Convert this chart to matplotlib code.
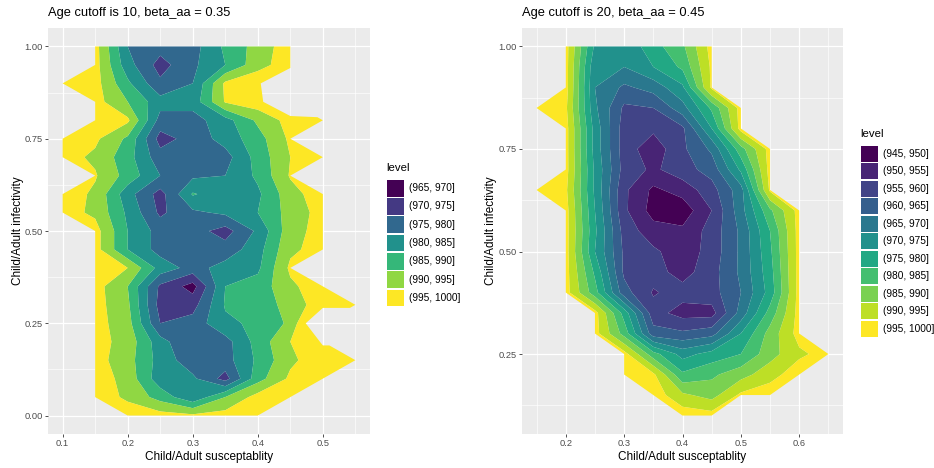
import numpy as np
import matplotlib
matplotlib.use("Agg")
import matplotlib.pyplot as plt
from matplotlib.patches import Rectangle

plt.rcParams['font.family'] = ['Liberation Sans', 'DejaVu Sans']

N = np.nan

left_title = "Age cutoff is 10, beta_aa = 0.35"
right_title = "Age cutoff is 20, beta_aa = 0.45"
x_label = "Child/Adult susceptablity"
y_label = "Child/Adult infectivity"
legend_title = "level"

# ---------------- left panel data ----------------
left_x = [0.10, 0.15, 0.20, 0.25, 0.30, 0.35, 0.40, 0.45, 0.50, 0.55]
left_y = [1.00, 0.95, 0.90, 0.85, 0.80, 0.75, 0.70, 0.65, 0.60, 0.55, 0.50,
          0.45, 0.40, 0.35, 0.30, 0.25, 0.20, 0.15, 0.10, 0.05, 0.00]
left_z = [
    [N,   997,   980, 977, 978,   986,   992, 998,   N,      N],
    [N,   997,   982, 973, 979,   985,   993, 998,   N,      N],
    [997, 997,   986, 976, 980,   996,   999, 1010,  N,      N],
    [N,   997,   990, 982, 982,   995.5, 998, 1010,  N,      N],
    [N,   998,   996, 978, 978,   983,   991, 997,   998,    N],
    [997, 996,   989, 973, 977,   982,   988, 996,   N,      N],
    [997, 994,   987, 977, 977,   978,   987, 995,   998,    N],
    [N,   995.5, 988, 980, 979,   980,   986, 995.5, N,      N],
    [998, 994,   982, 973, 985.5, 982,   984, 993,   998,    N],
    [997, 994,   984, 974, 979,   981,   985, 992,   997,    N],
    [N,   997,   985, 978, 977,   973,   981, 993,   997,    N],
    [N,   997,   985, 978, 977,   977,   983, 994,   997,    N],
    [N,   997,   995, 983, 978,   982,   984, 996,   N,      N],
    [N,   997,   990, 974, 968,   985,   987, 994,   998,    N],
    [N,   997,   991, 973, 973,   985.5, 987, 992,   998,    998],
    [N,   997,   992, 975, 977,   984,   986, 991,   1010,   N],
    [N,   997,   993, 982, 975,   978,   987, 995,   1000.5, N],
    [N,   997,   992, 983, 977,   978,   986, 994,   998,    998],
    [N,   998,   993, 982, 981,   973,   988, 996,   998,    N],
    [N,   998,   994, 988, 981,   990,   997, 998,   N,      N],
    [N,   N,     998, 997, 996,   997,   998, N,     N,      N],
]
left_levels = [965, 970, 975, 980, 985, 990, 995, 1000]
left_xticks = [0.1, 0.2, 0.3, 0.4, 0.5]
left_xticklabels = ["0.1", "0.2", "0.3", "0.4", "0.5"]
left_yticks = [0.0, 0.25, 0.5, 0.75, 1.0]
left_yticklabels = ["0.00", "0.25", "0.50", "0.75", "1.00"]

# ---------------- right panel data ----------------
right_x = [0.15, 0.20, 0.25, 0.30, 0.35, 0.40, 0.45, 0.50, 0.55, 0.60, 0.65]
right_y = [1.00, 0.95, 0.90, 0.85, 0.80, 0.75, 0.70, 0.65, 0.60, 0.55,
           0.50, 0.45, 0.40, 0.35, 0.30, 0.25, 0.20, 0.15, 0.10]
right_z = [
    [N,   997, 974, 971,   978,   984, 997, N,   N,   N,   N],
    [N,   997, 971, 970,   975,   981, 996, N,   N,   N,   N],
    [N,   997, 970, 964,   967,   974, 996, N,   N,   N,   N],
    [997, 996, 971, 959,   960,   968, 981, 997, N,   N,   N],
    [N,   997, 973, 957.5, 956,   959, 975, 997, N,   N,   N],
    [N,   997, 973, 957.5, 952,   959, 966, 983, 997, N,   N],
    [N,   997, 974, 958,   954,   958, 962, 976, 997, N,   N],
    [997, 996, 974, 956,   949,   952, 958, 968, 996, N,   N],
    [N,   997, 975, 956,   948,   947, 955, 968, 984, 997, N],
    [N,   997, 976, 958,   952,   951, 957, 966, 980, 997, N],
    [N,   997, 975, 959,   956,   952, 957, 966, 979, 997, N],
    [N,   997, 979, 959,   957,   953, 958, 966, 978, 997, N],
    [N,   997, 982, 962,   954.5, 957, 958, 965, 977, 997, N],
    [N,   N,   997, 978,   957,   953, 953, 967, 982, 997, N],
    [N,   N,   997, 983,   962,   961, 963, 975, 987, 997, N],
    [N,   N,   N,   997,   982,   973, 977, 980, 988, 994, 997],
    [N,   N,   N,   998,   996,   981, 984, 988, 993, 998, N],
    [N,   N,   N,   N,     998,   991, 988, 996, 998, N,   N],
    [N,   N,   N,   N,     N,     998, 997, N,   N,   N,   N],
]
right_levels = [945, 950, 955, 960, 965, 970, 975, 980, 985, 990, 995, 1000]
right_xticks = [0.2, 0.3, 0.4, 0.5, 0.6]
right_xticklabels = ["0.2", "0.3", "0.4", "0.5", "0.6"]
right_yticks = [0.25, 0.5, 0.75, 1.0]
right_yticklabels = ["0.25", "0.50", "0.75", "1.00"]

W, H = 934, 468
fig = plt.figure(figsize=(W / 100, H / 100), dpi=100)
fig.patch.set_facecolor("white")


def fx(px):
    return px / W


def fy(py):
    return 1 - py / H


def panel(px0, px1, py0, py1, xs, ys, zs, levels, xlim, ylim,
          xticks, xticklabels, yticks, yticklabels, title,
          ylab_x, leg_x, leg_top, key_h):
    ax = fig.add_axes([fx(px0), fy(py1), fx(px1 - px0), (py1 - py0) / H])
    ax.set_facecolor("#EBEBEB")
    for s in ax.spines.values():
        s.set_visible(False)
    ax.set_xlim(*xlim)
    ax.set_ylim(*ylim)
    # minor grid lines halfway between major ticks
    dx = xticks[1] - xticks[0]
    dy = yticks[1] - yticks[0]
    for t in [xticks[0] - dx / 2] + [v + dx / 2 for v in xticks]:
        if xlim[0] < t < xlim[1]:
            ax.axvline(t, color="white", lw=0.45, zorder=0.5)
    for t in [yticks[0] - dy / 2] + [v + dy / 2 for v in yticks]:
        if ylim[0] < t < ylim[1]:
            ax.axhline(t, color="white", lw=0.45, zorder=0.5)
    for t in xticks:
        ax.axvline(t, color="white", lw=0.9, zorder=0.6)
    for t in yticks:
        ax.axhline(t, color="white", lw=0.9, zorder=0.6)

    Z = np.ma.masked_invalid(np.array(zs, dtype=float))
    n = len(levels) - 1
    cols = plt.cm.viridis(np.linspace(0, 1, n))
    ax.contourf(xs, ys, Z, levels=levels, colors=cols, corner_mask=True,
                antialiased=True, zorder=1)

    ax.set_xticks(xticks)
    ax.set_xticklabels(xticklabels)
    ax.set_yticks(yticks)
    ax.set_yticklabels(yticklabels)
    ax.tick_params(axis="both", length=2.2, width=0.6, color="#333333",
                   labelcolor="#4D4D4D", labelsize=6.7, pad=1.5)

    fig.text(fx(px0), fy(13), title, fontsize=9.3, color="black",
             ha="left", va="center")
    fig.text(fx((px0 + px1) / 2), fy(457), x_label, fontsize=8.5,
             color="black", ha="center", va="center")
    fig.text(fx(ylab_x), fy((py0 + py1) / 2), y_label, fontsize=8.5,
             color="black", ha="center", va="center", rotation=90)

    # legend
    fig.text(fx(leg_x), fy(leg_top - 11), legend_title, fontsize=8.2,
             color="black", ha="left", va="center")
    for i in range(n):
        top = leg_top + i * key_h
        fig.patches.append(Rectangle((fx(leg_x + 1), fy(top + key_h - 0.8)),
                                     17 / W, (key_h - 1.6) / H,
                                     transform=fig.transFigure,
                                     facecolor=cols[i], edgecolor="none"))
        fig.text(fx(leg_x + 23), fy(top + key_h / 2),
                 "(%d, %d]" % (levels[i], levels[i + 1]),
                 fontsize=7.3, color="black", ha="left", va="center")
    return ax


panel(48, 370, 28, 434, left_x, left_y, left_z, left_levels,
      (0.0775, 0.5725), (-0.05, 1.05),
      left_xticks, left_xticklabels, left_yticks, left_yticklabels,
      left_title, 18, 386, 179, 18.3)

panel(522, 843, 28, 434, right_x, right_y, right_z, right_levels,
      (0.125, 0.675), (0.055, 1.045),
      right_xticks, right_xticklabels, right_yticks, right_yticklabels,
      right_title, 491, 860, 145, 17.5)

fig.savefig("out.png", dpi=100)
